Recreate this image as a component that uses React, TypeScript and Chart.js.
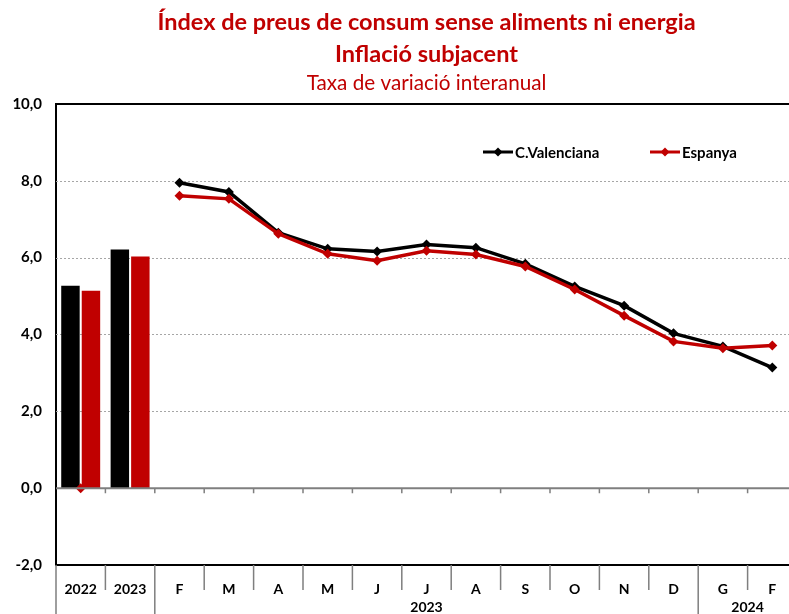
import React, { useEffect, useRef } from 'react';
import { Chart, registerables } from 'chart.js';

Chart.register(...registerables);

const categories = ['2022', '2023', 'F', 'M', 'A', 'M', 'J', 'J', 'A', 'S', 'O', 'N', 'D', 'G', 'F'];
const cvBars = [5.27, 6.21, null, null, null, null, null, null, null, null, null, null, null, null, null];
const esBars = [5.14, 6.03, null, null, null, null, null, null, null, null, null, null, null, null, null];
const cvLine = [null, null, 7.95, 7.71, 6.65, 6.23, 6.16, 6.34, 6.26, 5.84, 5.25, 4.75, 4.03, 3.69, 3.14];
const esLine = [0, null, 7.61, 7.53, 6.62, 6.1, 5.92, 6.18, 6.08, 5.77, 5.17, 4.49, 3.82, 3.64, 3.71];
const gridValues = [2, 4, 6, 8];
const yearLabels = ['2023', '2024'];
const yearStarts = [2, 13];
const yearEnds = [13, 15];
const seriesNames = ['C.Valenciana', 'Espanya'];

const RED = '#C00000';
const BLACK = '#000000';
const FONT = 'Lato, "Open Sans", sans-serif';

const decorPlugin = {
  id: 'decor',
  beforeDatasetsDraw(chart: any) {
    const { ctx, chartArea, scales } = chart;
    const y = scales.y;
    ctx.save();
    ctx.strokeStyle = '#A6A6A6';
    ctx.lineWidth = 1;
    ctx.setLineDash([2, 2]);
    gridValues.forEach((v) => {
      const py = Math.round(y.getPixelForValue(v)) + 0.5;
      ctx.beginPath();
      ctx.moveTo(chartArea.left, py);
      ctx.lineTo(chartArea.right, py);
      ctx.stroke();
    });
    ctx.setLineDash([]);
    ctx.strokeStyle = BLACK;
    ctx.lineWidth = 2;
    ctx.beginPath();
    ctx.moveTo(chartArea.left, chartArea.top);
    ctx.lineTo(chartArea.right, chartArea.top);
    ctx.moveTo(chartArea.right, chartArea.top);
    ctx.lineTo(chartArea.right, chartArea.bottom);
    ctx.stroke();
    ctx.restore();
  },
  afterDatasetsDraw(chart: any) {
    const { ctx, chartArea, scales } = chart;
    const x = scales.x;
    const y = scales.y;
    const slot = x.getPixelForValue(1) - x.getPixelForValue(0);
    const boundary = (i: number) => x.getPixelForValue(i) - slot / 2;
    const y0 = y.getPixelForValue(0);
    ctx.save();
    ctx.strokeStyle = '#7F7F7F';
    ctx.lineWidth = 2;
    ctx.beginPath();
    ctx.moveTo(chartArea.left, y0);
    ctx.lineTo(chartArea.right, y0);
    ctx.stroke();
    ctx.lineWidth = 1.5;
    ctx.beginPath();
    for (let i = 1; i <= categories.length; i++) {
      const bx = boundary(i);
      ctx.moveTo(bx, y0);
      ctx.lineTo(bx, y0 + 5);
    }
    ctx.stroke();
    ctx.restore();
  },
  afterDraw(chart: any) {
    const { ctx, chartArea, scales } = chart;
    const x = scales.x;
    const slot = x.getPixelForValue(1) - x.getPixelForValue(0);
    const boundary = (i: number) => x.getPixelForValue(i) - slot / 2;
    const bottom = chart.height;
    ctx.save();
    ctx.strokeStyle = '#7F7F7F';
    ctx.lineWidth = 1.5;
    ctx.beginPath();
    for (let i = 0; i <= categories.length; i++) {
      const bx = boundary(i);
      const long = i === 0 || yearStarts.includes(i) || i === categories.length;
      ctx.moveTo(bx, chartArea.bottom);
      ctx.lineTo(bx, long ? bottom : chartArea.bottom + 25);
    }
    ctx.stroke();
    ctx.fillStyle = BLACK;
    ctx.font = `bold 14px ${FONT}`;
    ctx.textAlign = 'center';
    ctx.textBaseline = 'middle';
    yearLabels.forEach((lab, k) => {
      const cx = (boundary(yearStarts[k]) + boundary(yearEnds[k])) / 2;
      ctx.fillText(lab, cx, chartArea.bottom + 42);
    });
    const legendY = 152;
    const items = [
      { name: seriesNames[0], color: BLACK, x0: 483 },
      { name: seriesNames[1], color: RED, x0: 650 },
    ];
    items.forEach((it) => {
      ctx.strokeStyle = it.color;
      ctx.lineWidth = 3;
      ctx.beginPath();
      ctx.moveTo(it.x0, legendY);
      ctx.lineTo(it.x0 + 30, legendY);
      ctx.stroke();
      ctx.fillStyle = it.color;
      ctx.beginPath();
      ctx.moveTo(it.x0 + 15, legendY - 4.5);
      ctx.lineTo(it.x0 + 19.5, legendY);
      ctx.lineTo(it.x0 + 15, legendY + 4.5);
      ctx.lineTo(it.x0 + 10.5, legendY);
      ctx.closePath();
      ctx.fill();
      ctx.fillStyle = BLACK;
      ctx.font = `bold 15px ${FONT}`;
      ctx.textAlign = 'left';
      ctx.textBaseline = 'middle';
      ctx.fillText(it.name, it.x0 + 32, legendY + 1);
    });
    ctx.restore();
  },
};

export default function App() {
  const ref = useRef<HTMLCanvasElement | null>(null);

  useEffect(() => {
    if (!ref.current) return;
    const chart = new Chart(ref.current, {
      type: 'bar',
      data: {
        labels: categories,
        datasets: [
          {
            type: 'line',
            label: seriesNames[1],
            data: esLine,
            borderColor: RED,
            backgroundColor: RED,
            borderWidth: 3.5,
            pointStyle: 'rectRot',
            pointRadius: 5,
            pointBorderWidth: 0,
            pointBackgroundColor: RED,
            spanGaps: false,
            order: 0,
          } as any,
          {
            type: 'line',
            label: seriesNames[0],
            data: cvLine,
            borderColor: BLACK,
            backgroundColor: BLACK,
            borderWidth: 3.5,
            pointStyle: 'rectRot',
            pointRadius: 5,
            pointBorderWidth: 0,
            pointBackgroundColor: BLACK,
            spanGaps: false,
            order: 1,
          } as any,
          {
            type: 'bar',
            label: seriesNames[0] + ' ',
            data: cvBars,
            backgroundColor: BLACK,
            categoryPercentage: 0.83,
            barPercentage: 0.9,
            order: 2,
          } as any,
          {
            type: 'bar',
            label: seriesNames[1] + ' ',
            data: esBars,
            backgroundColor: RED,
            categoryPercentage: 0.83,
            barPercentage: 0.9,
            order: 3,
          } as any,
        ],
      },
      options: {
        responsive: false,
        animation: false,
        layout: { padding: { left: 0, right: 1, top: 0, bottom: 0 } },
        plugins: {
          legend: { display: false },
          tooltip: { enabled: false },
          title: {
            display: true,
            text: ['Índex de preus de consum sense aliments ni energia', 'Inflació subjacent'],
            color: RED,
            font: { family: FONT, size: 23.5, weight: 'bold', lineHeight: 1.36 },
            padding: { top: 6, bottom: 0 },
            fullSize: false,
          },
          subtitle: {
            display: true,
            text: 'Taxa de variació interanual',
            color: RED,
            font: { family: FONT, size: 20.7, weight: 'normal', lineHeight: 1.2 },
            padding: { top: 0.6, bottom: 8.6 },
            fullSize: false,
          },
        },
        scales: {
          x: {
            offset: true,
            grid: { display: false },
            border: { display: true, color: BLACK, width: 2 },
            ticks: {
              color: BLACK,
              font: { family: FONT, size: 14, weight: 'bold' },
              padding: 8,
              maxRotation: 0,
              autoSkip: false,
            },
            afterFit: (s: any) => {
              s.height = 49;
            },
          },
          y: {
            min: -2,
            max: 10,
            grid: { display: false, drawTicks: false },
            border: { display: true, color: BLACK, width: 2 },
            ticks: {
              stepSize: 2,
              color: BLACK,
              padding: 14,
              font: { family: FONT, size: 15, weight: 'bold' },
              callback: (v: any) => Number(v).toFixed(1).replace('.', ','),
            },
            afterFit: (s: any) => {
              s.width = 56;
            },
          },
        },
      },
      plugins: [decorPlugin],
    });
    return () => chart.destroy();
  }, []);

  return (
    <div style={{ position: 'fixed', left: 0, top: 0, width: 789, height: 614, overflow: 'hidden', background: '#fff' }}>
      <canvas ref={ref} width={802} height={614} style={{ display: 'block', width: 802, height: 614 }} />
    </div>
  );
}
